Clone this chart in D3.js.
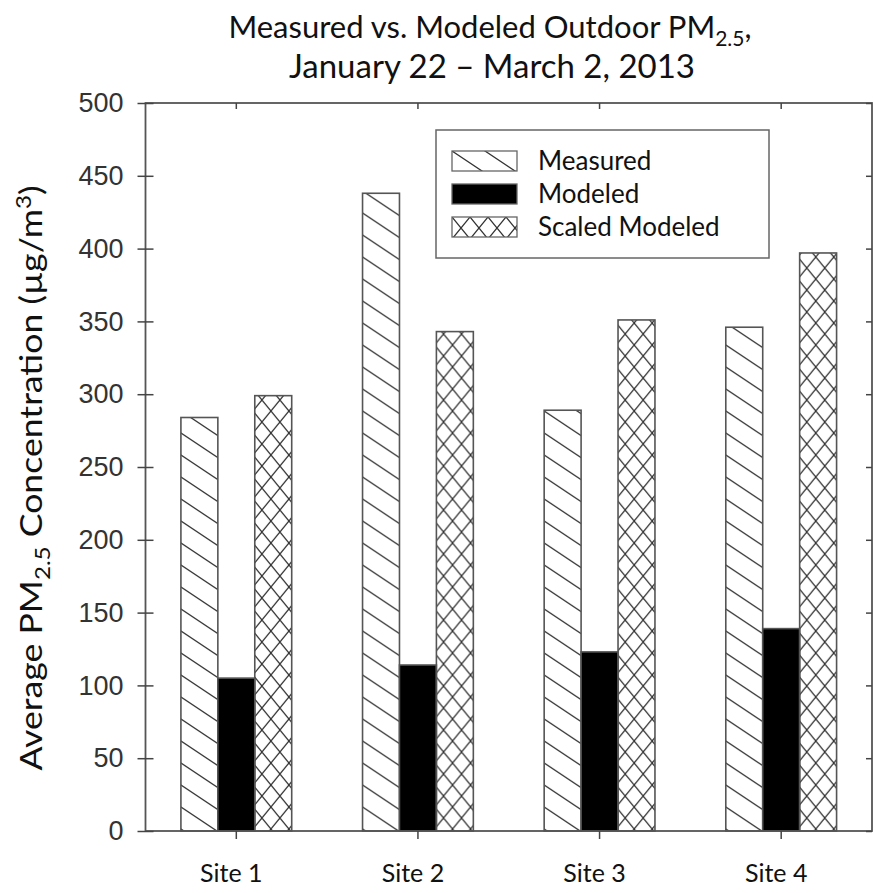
<!DOCTYPE html>
<html>
<head>
<meta charset="utf-8">
<script src="https://cdn.jsdelivr.net/npm/d3@7"></script>
<style>
  html, body { margin: 0; padding: 0; background: #fff; }
  svg { display: block; }
</style>
</head>
<body>
<svg id="chart" width="875" height="893"></svg>
<script>
// Average outdoor PM2.5 by site (µg/m³)
const sites = ["Site 1", "Site 2", "Site 3", "Site 4"];
const seriesNames = ["Measured", "Modeled", "Scaled Modeled"];
const measured = [284, 438, 289, 346];
const modeled = [105, 114, 123, 139];
const scaledModeled = [299, 343, 351, 397];
const yTicks = [0, 50, 100, 150, 200, 250, 300, 350, 400, 450, 500];

const svg = d3.select("#chart");
const margin = { left: 145.5, right: 3, top: 103, bottom: 62 };
const W = 875, H = 893;
const plotW = W - margin.left - margin.right;
const plotH = H - margin.top - margin.bottom;
const sans = "Lato, 'Open Sans', sans-serif";

const defs = svg.append("defs");
// diagonal hatch for the measured series
const hatch = defs.append("pattern")
  .attr("id", "hatch").attr("patternUnits", "userSpaceOnUse")
  .attr("width", 33).attr("height", 22);
hatch.append("path")
  .attr("d", "M-33,-22 L66,44 M-33,0 L33,44 M0,-22 L66,22 M-66,-22 L33,44")
  .attr("stroke", "#333").attr("stroke-width", 1.3).attr("fill", "none");
// cross hatch for the scaled modeled series
const cross = defs.append("pattern")
  .attr("id", "cross").attr("patternUnits", "userSpaceOnUse")
  .attr("width", 18).attr("height", 22);
cross.append("path")
  .attr("d", "M0,0 L18,22 M18,0 L0,22 M-18,0 L0,22 M36,0 L18,22 M0,-22 L18,0 M18,-22 L0,0 M0,22 L18,44 M18,22 L0,44")
  .attr("stroke", "#333").attr("stroke-width", 1.3).attr("fill", "none");

const fills = ["url(#hatch)", "#000", "url(#cross)"];

const g = svg.append("g").attr("transform", `translate(${margin.left},${margin.top})`);

const x = d3.scaleBand().domain(sites).range([0, plotW]).paddingInner(0).paddingOuter(0);
const groupW = x.bandwidth() * 0.61;
const inner = d3.scaleBand().domain(seriesNames).range([0, groupW]);
const y = d3.scaleLinear().domain([0, 500]).range([plotH, 0]);

const rows = sites.map((s, i) => ({
  site: s,
  vals: [measured[i], modeled[i], scaledModeled[i]]
}));

const groups = g.selectAll(".grp").data(rows).join("g")
  .attr("transform", d => `translate(${x(d.site) + (x.bandwidth() - groupW) / 2},0)`);

groups.selectAll("rect").data(d => d.vals.map((v, k) => ({ v, k })))
  .join("rect")
  .attr("x", d => inner(seriesNames[d.k]))
  .attr("width", inner.bandwidth())
  .attr("y", d => y(d.v))
  .attr("height", d => plotH - y(d.v))
  .attr("fill", d => fills[d.k])
  .attr("stroke", "#555")
  .attr("stroke-width", 1.6);

// frame
g.append("rect").attr("x", 0).attr("y", 0).attr("width", plotW).attr("height", plotH)
  .attr("fill", "none").attr("stroke", "#555").attr("stroke-width", 1.8);

// left axis: ticks crossing the axis line
const ya = g.append("g").call(d3.axisLeft(y).tickValues(yTicks).tickSize(8));
ya.select(".domain").remove();
ya.selectAll(".tick line").attr("x2", 8).attr("x1", -8).attr("stroke", "#444").attr("stroke-width", 1.5);
ya.selectAll(".tick text")
  .attr("x", -22)
  .style("font-family", "'Liberation Sans', Arial, sans-serif")
  .style("font-size", "27px").attr("fill", "#333");

// right axis ticks (inward)
const yr = g.append("g").attr("transform", `translate(${plotW},0)`)
  .call(d3.axisRight(y).tickValues(yTicks).tickSize(-6).tickFormat(""));
yr.select(".domain").remove();
yr.selectAll(".tick line").attr("stroke", "#444").attr("stroke-width", 1.5);

// bottom axis ticks (downward)
const xa = g.append("g").attr("transform", `translate(0,${plotH})`)
  .call(d3.axisBottom(x).tickSize(8).tickPadding(25));
xa.select(".domain").remove();
xa.selectAll(".tick line").attr("stroke", "#444").attr("stroke-width", 1.5);
xa.selectAll(".tick text")
  .attr("dx", -5)
  .style("font-family", sans)
  .style("font-size", "25px").attr("fill", "#111");

// top ticks (inward)
const xt = g.append("g").call(d3.axisTop(x).tickSize(-6).tickFormat(""));
xt.select(".domain").remove();
xt.selectAll(".tick line").attr("stroke", "#444").attr("stroke-width", 1.5);

// legend
const lg = svg.append("g").attr("transform", "translate(436,130)");
lg.append("rect").attr("width", 333).attr("height", 128)
  .attr("fill", "#fff").attr("stroke", "#666").attr("stroke-width", 1.5);
seriesNames.forEach((name, k) => {
  const row = lg.append("g").attr("transform", `translate(16,${21 + k * 33})`);
  row.append("rect").attr("width", 65).attr("height", 20)
    .attr("fill", fills[k]).attr("stroke", "#666").attr("stroke-width", 1.3);
  row.append("text").attr("x", 86).attr("y", 19)
    .style("font-family", sans)
    .style("font-size", "26px").attr("fill", "#111").text(name);
});

// title
const title = svg.append("text").attr("text-anchor", "middle")
  .style("font-family", sans)
  .style("font-size", "31px").attr("fill", "#111");
const t1 = title.append("tspan").attr("x", 490).attr("y", 38);
t1.append("tspan").text("Measured vs. Modeled Outdoor PM");
t1.append("tspan").attr("dy", 8).style("font-size", "21px").text("2.5");
t1.append("tspan").attr("dy", -8).text(",");
title.append("tspan").attr("x", 492).attr("y", 78)
  .style("font-size", "33px").text("January 22 \u2013 March 2, 2013");

// y axis label
const yl = svg.append("text")
  .attr("transform", "translate(42,478) rotate(-90) scale(1.15,1)")
  .attr("text-anchor", "middle")
  .style("font-family", sans)
  .style("font-size", "31px").attr("fill", "#111");
yl.append("tspan").text("Average PM");
yl.append("tspan").attr("dy", 8).style("font-size", "21px").text("2.5");
yl.append("tspan").attr("dy", -8).text(" Concentration (\u00b5g/m");
yl.append("tspan").attr("dy", -11).style("font-size", "21px").text("3");
yl.append("tspan").attr("dy", 11).text(")");
</script>
</body>
</html>
